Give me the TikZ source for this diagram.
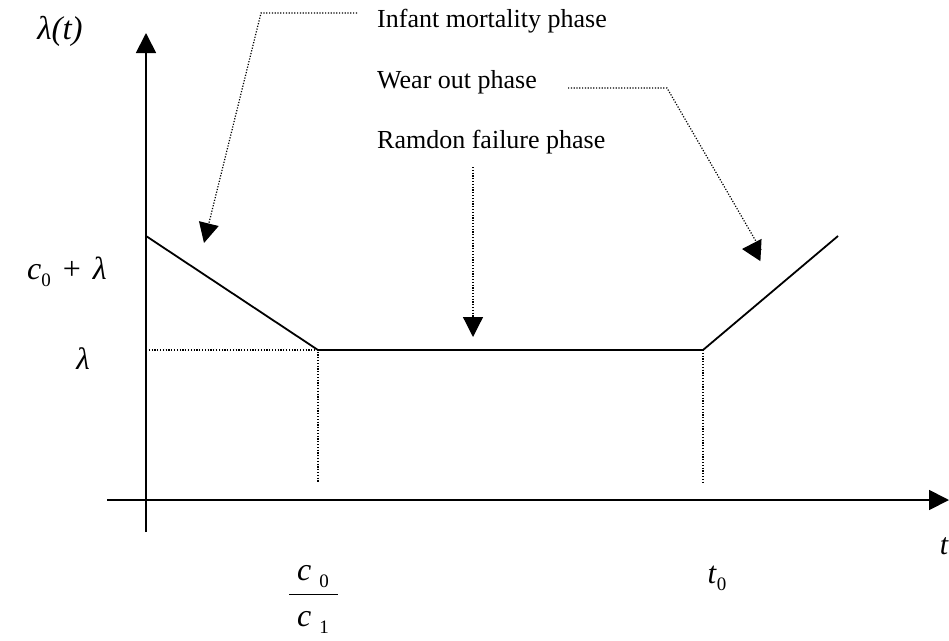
\documentclass[tikz,border=0pt]{standalone}
\usepackage{fontspec}
\setmainfont{Liberation Serif}
\usetikzlibrary{arrows.meta}
\tikzset{
  axisline/.style={line width=1.8pt},
  curveline/.style={line width=1.8pt},
  guide/.style={line width=1.2pt, dash pattern=on 1.2pt off 1.6pt},
  tipbig/.style={-{Triangle[length=20pt,width=20pt]}},
  phaselabel/.style={anchor=base west, inner sep=0pt, font=\fontsize{26}{30}\selectfont},
  mathlabel/.style={inner sep=0pt, font=\fontsize{30}{34}\selectfont\itshape},
}
\begin{document}
\begin{tikzpicture}[x=1pt,y=-1pt]
\useasboundingbox (0,0) rectangle (949,640);
% key points
\coordinate (ybot) at (146,532);
\coordinate (ytop) at (146,33);
\coordinate (xleft) at (107,500);
\coordinate (xright) at (949,500);
\coordinate (p0) at (146,236);
\coordinate (p1) at (318,350);
\coordinate (p2) at (703,350);
\coordinate (p3) at (838,236);
\coordinate (lamax) at (146,350);
\coordinate (d1) at (318,483);
\coordinate (d2) at (703,483);
% axes
\draw[axisline,tipbig] (ybot) -- (ytop);
\draw[axisline,tipbig] (xleft) -- (xright);
% hazard curve
\draw[curveline] (p0) -- (p1) -- (p2) -- (p3);
% guides
\draw[guide] (lamax) -- (p1) -- (d1);
\draw[guide] (p2) -- (d2);
% phase labels
\node[phaselabel] (infant) at (377,27) {Infant mortality phase};
\node[phaselabel] (wear) at (377,88) {Wear out phase};
\node[phaselabel] (random) at (377,148) {Ramdon failure phase};
% pointer arrows
\coordinate (i0) at (357,13);
\coordinate (i1) at (261,13);
\coordinate (itip) at (204,243);
\draw[guide,tipbig] (i0) -- (i1) -- (itip);
\coordinate (w0) at (568,88);
\coordinate (w1) at (667,88);
\coordinate (w2) at (761,250);
\coordinate (wtip) at (742,249);
\draw[guide] (w0) -- (w1) -- (w2);
\draw[guide,-{Triangle[length=19pt,width=22pt]}] (w2) -- (wtip);
\coordinate (r0) at (473,167);
\coordinate (rtip) at (473,337);
\draw[guide,tipbig] (r0) -- (rtip);
% math labels
\node[mathlabel, font=\fontsize{33}{36}\selectfont\itshape] (lt) at (60,31) {λ(t)};
\node[mathlabel, font=\fontsize{32}{36}\selectfont] (c0l) at (67,272) {\textit{c}\raisebox{-7pt}{\fontsize{19}{19}\selectfont 0}\hspace{12pt}+\hspace{12pt}\textit{λ}};
\node[mathlabel, font=\fontsize{31}{34}\selectfont\itshape] (lam) at (83,359) {λ};
\node[inner sep=0pt, font=\fontsize{32}{34}\selectfont] (num) at (313,577) {\textit{c}\hspace{8pt}\raisebox{-7pt}{\fontsize{19}{19}\selectfont 0}};
\node[inner sep=0pt, font=\fontsize{32}{34}\selectfont] (den) at (313,622) {\textit{c}\hspace{8pt}\raisebox{-7pt}{\fontsize{19}{19}\selectfont 1}};
\coordinate (fb0) at (289,594);
\coordinate (fb1) at (338,594);
\draw[line width=1pt] (fb0) -- (fb1);
\node[inner sep=0pt, font=\fontsize{31}{34}\selectfont] (t0) at (717,578) {\textit{t}\raisebox{-7pt}{\fontsize{19}{19}\selectfont 0}};
\node[mathlabel] (tl) at (944,546) {t};
\end{tikzpicture}
\end{document}
